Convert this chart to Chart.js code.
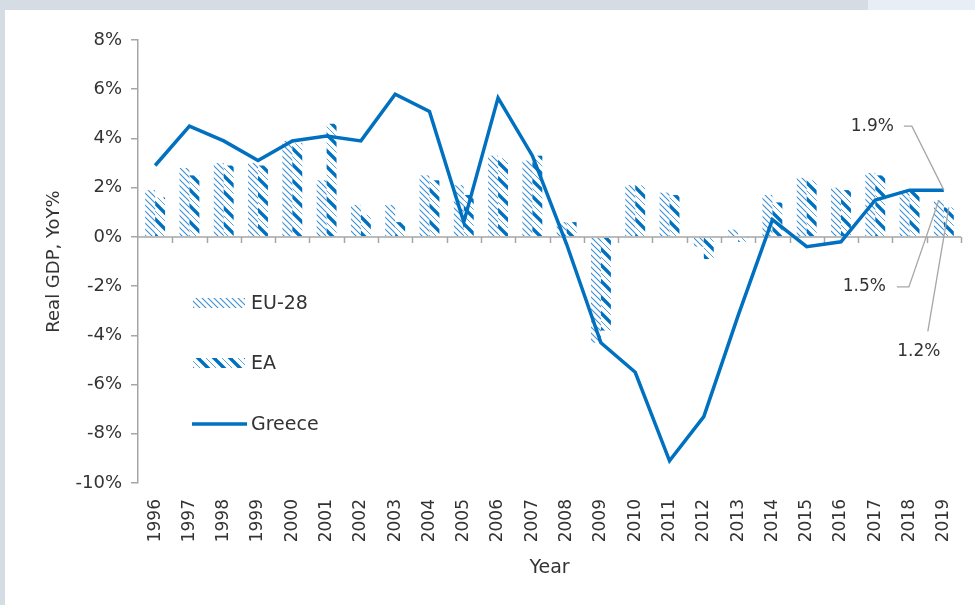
<!DOCTYPE html>
<html>
<head>
<meta charset="utf-8">
<script src="https://cdn.jsdelivr.net/npm/chart.js@4.4.0/dist/chart.umd.min.js"></script>
<style>
  html, body { margin: 0; padding: 0; background: #d5dce3; }
  #wrap { position: absolute; left: 0; top: 0; width: 975px; height: 605px; }
  #band { position: absolute; left: 868px; top: 0; width: 107px; height: 10px; background: #e8eef6; }
  #panel { position: absolute; left: 5px; top: 10px; width: 970px; height: 595px; background: #fff; }
  canvas { position: absolute; left: 0; top: 0; }
</style>
</head>
<body>
<div id="wrap">
  <div id="band"></div>
  <div id="panel"></div>
  <canvas id="c" width="975" height="605"></canvas>
</div>
<script>
// data
const years = ['1996','1997','1998','1999','2000','2001','2002','2003','2004','2005','2006','2007',
               '2008','2009','2010','2011','2012','2013','2014','2015','2016','2017','2018','2019'];
const eu28 = [1.9, 2.8, 3.0, 3.0, 3.9, 2.3, 1.3, 1.3, 2.5, 2.1, 3.3, 3.1,
              0.6, -4.3, 2.1, 1.8, -0.4, 0.3, 1.7, 2.4, 2.0, 2.6, 1.9, 1.5];
const ea = [1.6, 2.5, 2.9, 2.9, 3.8, 4.6, 0.9, 0.6, 2.3, 1.7, 3.2, 3.3,
            0.6, -3.8, 2.1, 1.7, -0.9, -0.2, 1.4, 2.3, 1.9, 2.5, 1.9, 1.2];
const greece = [2.9, 4.5, 3.9, 3.1, 3.9, 4.1, 3.9, 5.8, 5.1, 0.6, 5.65, 3.3,
                -0.3, -4.3, -5.5, -9.1, -7.3, -3.2, 0.7, -0.4, -0.2, 1.5, 1.9, 1.9];
const yTicks = [8, 6, 4, 2, 0, -2, -4, -6, -8, -10];

const BLUE = '#0070c0';
const GREY = '#a6a6a6';
const TEXT = '#333333';
const FONT = '"DejaVu Sans", sans-serif';

// hatch fills
function fineHatch() {
  const c = document.createElement('canvas');
  c.width = 6; c.height = 6;
  const g = c.getContext('2d');
  g.strokeStyle = '#3d8fd0';
  g.lineWidth = 1.1;
  g.beginPath();
  g.moveTo(-1, -1); g.lineTo(7, 7);
  g.moveTo(-1, 5); g.lineTo(1, 7);
  g.moveTo(5, -1); g.lineTo(7, 1);
  g.stroke();
  return g.createPattern(c, 'repeat');
}
function wideHatch() {
  const c = document.createElement('canvas');
  c.width = 16; c.height = 16;
  const g = c.getContext('2d');
  g.strokeStyle = BLUE;
  g.lineWidth = 3.4;
  g.beginPath();
  g.moveTo(-2, -2); g.lineTo(18, 18);
  g.moveTo(-2, 14); g.lineTo(2, 18);
  g.moveTo(14, -2); g.lineTo(18, 2);
  g.stroke();
  g.strokeStyle = '#5aa0d8';
  g.lineWidth = 1;
  g.beginPath();
  g.moveTo(-2, 6); g.lineTo(10, 18);
  g.moveTo(6, -2); g.lineTo(18, 10);
  g.stroke();
  return g.createPattern(c, 'repeat');
}
const euFill = fineHatch();
const eaFill = wideHatch();

// zero line with ticks, drawn under the Greece line
const zeroAxis = {
  id: 'zeroAxis',
  beforeDatasetDraw(chart, args) {
    if (args.index !== 2) return;
    const { ctx, chartArea } = chart;
    const y0 = chart.scales.y.getPixelForValue(0);
    const step = (chartArea.right - chartArea.left) / years.length;
    ctx.save();
    ctx.strokeStyle = GREY;
    ctx.lineWidth = 1.5;
    ctx.beginPath();
    ctx.moveTo(chartArea.left, y0);
    ctx.lineTo(chartArea.right, y0);
    for (let i = 1; i <= years.length; i++) {
      const px = Math.round(chartArea.left + i * step) + 0.5;
      ctx.moveTo(px, y0);
      ctx.lineTo(px, y0 + 6);
    }
    ctx.stroke();
    ctx.restore();
  }
};

// legend inside the plot
const sideLegend = {
  id: 'sideLegend',
  afterDraw(chart) {
    const { ctx } = chart;
    const rows = [
      { y: 303, kind: 'box', fill: euFill, label: chart.data.datasets[0].label },
      { y: 363, kind: 'box', fill: eaFill, label: chart.data.datasets[1].label },
      { y: 424, kind: 'line', label: chart.data.datasets[2].label }
    ];
    ctx.save();
    ctx.font = '19px ' + FONT;
    ctx.textBaseline = 'middle';
    rows.forEach(r => {
      if (r.kind === 'box') {
        ctx.fillStyle = r.fill;
        ctx.fillRect(193, r.y - 5, 52, 10);
      } else {
        ctx.strokeStyle = BLUE;
        ctx.lineWidth = 3.5;
        ctx.beginPath();
        ctx.moveTo(192, r.y);
        ctx.lineTo(247, r.y);
        ctx.stroke();
      }
      ctx.fillStyle = TEXT;
      ctx.fillText(r.label, 251, r.y + 1);
    });
    ctx.restore();
  }
};

// value callouts for 2019
const callouts = {
  id: 'callouts',
  afterDraw(chart) {
    const { ctx } = chart;
    const last = years.length - 1;
    const eu = chart.getDatasetMeta(0).data[last];
    const e = chart.getDatasetMeta(1).data[last];
    const gr = chart.getDatasetMeta(2).data[last];
    ctx.save();
    ctx.strokeStyle = GREY;
    ctx.lineWidth = 1.3;
    ctx.font = '17px ' + FONT;
    ctx.fillStyle = TEXT;
    ctx.textBaseline = 'middle';

    // Greece
    ctx.beginPath();
    ctx.moveTo(gr.x, gr.y);
    ctx.lineTo(gr.x - 32, gr.y - 64);
    ctx.lineTo(gr.x - 40, gr.y - 64);
    ctx.stroke();
    ctx.textAlign = 'right';
    ctx.fillText(greece[last].toFixed(1) + '%', gr.x - 50, gr.y - 64);

    // EU-28
    ctx.beginPath();
    ctx.moveTo(eu.x, eu.y);
    ctx.lineTo(eu.x - 30, eu.y + 87);
    ctx.lineTo(eu.x - 42, eu.y + 87);
    ctx.stroke();
    ctx.fillText(eu28[last].toFixed(1) + '%', eu.x - 53, eu.y + 87);

    // EA
    ctx.beginPath();
    ctx.moveTo(e.x, e.y);
    ctx.lineTo(e.x - 21, e.y + 124);
    ctx.stroke();
    ctx.textAlign = 'center';
    ctx.fillText(ea[last].toFixed(1) + '%', e.x - 30, e.y + 144);
    ctx.restore();
  }
};

new Chart(document.getElementById('c'), {
  data: {
    labels: years,
    datasets: [
      { type: 'bar', label: 'EU-28', data: eu28, backgroundColor: euFill, borderWidth: 0,
        categoryPercentage: 0.58, barPercentage: 1.0, order: 2 },
      { type: 'bar', label: 'EA', data: ea, backgroundColor: eaFill, borderWidth: 0,
        categoryPercentage: 0.58, barPercentage: 1.0, order: 2 },
      { type: 'line', label: 'Greece', data: greece, borderColor: BLUE, borderWidth: 3.5,
        pointRadius: 0, tension: 0, fill: false, order: 1 }
    ]
  },
  options: {
    responsive: false,
    animation: false,
    layout: { padding: { left: 40, top: 40, right: 14, bottom: 26 } },
    plugins: {
      legend: { display: false },
      tooltip: { enabled: false }
    },
    scales: {
      x: {
        grid: { display: false },
        border: { display: false },
        ticks: { color: TEXT, font: { family: FONT, size: 17 }, minRotation: 90, maxRotation: 90,
                 autoSkip: false, padding: 8 },
        title: { display: true, text: 'Year', color: TEXT, font: { family: FONT, size: 19 },
                 padding: { top: 4, bottom: 0 } },
        afterFit(s) { s.height = 96; }
      },
      y: {
        min: -10, max: 8,
        afterBuildTicks(s) { s.ticks = yTicks.map(v => ({ value: v })); },
        grid: { drawOnChartArea: false, drawTicks: true, tickLength: 7, color: GREY, lineWidth: 1.5 },
        border: { color: GREY, width: 1.5 },
        ticks: { color: TEXT, font: { family: FONT, size: 18 }, padding: 9,
                 callback: v => v + '%' },
        title: { display: true, text: 'Real GDP, YoY%', color: TEXT, font: { family: FONT, size: 18 },
                 padding: { top: 4, bottom: 4 } },
        afterFit(s) { s.width = 98; }
      }
    }
  },
  plugins: [zeroAxis, sideLegend, callouts]
});
</script>
</body>
</html>
